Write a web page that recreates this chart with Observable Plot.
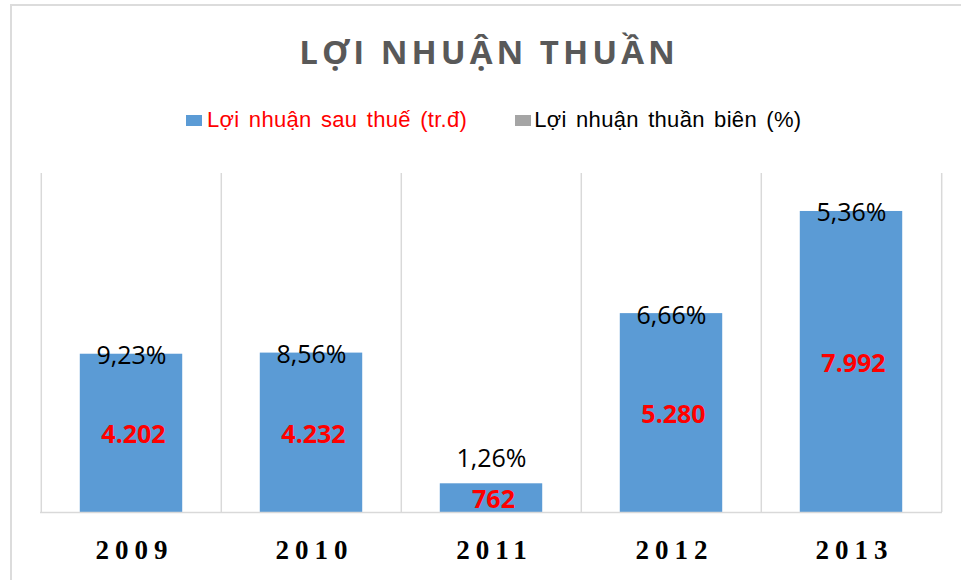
<!DOCTYPE html>
<html>
<head>
<meta charset="utf-8">
<script src="https://cdn.jsdelivr.net/npm/d3@7"></script>
<script src="https://cdn.jsdelivr.net/npm/@observablehq/plot@0.6"></script>
<style>
  html, body { margin: 0; padding: 0; background: #fff; overflow: hidden; }
  #wrap { position: relative; width: 961px; height: 580px; overflow: hidden; background: #fff; }
  #frameTop { position: absolute; left: 10px; top: 4px; width: 951px; height: 2px; background: #dcdcdc; }
  #frameLeft { position: absolute; left: 10px; top: 4px; width: 2px; height: 576px; background: #dcdcdc; }
  #title { position: absolute; left: 10px; width: 958px; top: 35px; text-align: center;
           font-family: "Open Sans", sans-serif; font-weight: 700; font-size: 33px; line-height: 33px;
           letter-spacing: 4px; color: #595959; white-space: nowrap; }
  #legend { position: absolute; left: 186px; top: 109px; height: 22px; display: flex; align-items: center;
            font-family: "Liberation Sans", Arial, sans-serif; font-size: 22px; line-height: 22px;
            letter-spacing: 0.3px; word-spacing: 3px; white-space: nowrap; }
  .item { display: flex; align-items: center; }
  .sw { width: 16px; height: 11px; display: inline-block; }
  #chart { position: absolute; left: 0; top: 150px; }
  #chart g[aria-label="x-axis tick label"] text { letter-spacing: 6px; }
</style>
</head>
<body>
<div id="wrap">
  <div id="frameTop"></div>
  <div id="frameLeft"></div>
  <div id="title"></div>
  <div id="legend"></div>
  <div id="chart"></div>
</div>
<script>
const chartTitle = "LỢI NHUẬN THUẦN";
const years = ["2009", "2010", "2011", "2012", "2013"];
const profit = [4202, 4232, 762, 5280, 7992];       // Lợi nhuận sau thuế (tr.đ)
const netMargin = [9.23, 8.56, 1.26, 6.66, 5.36];   // Lợi nhuận thuần biên (%)
const seriesNames = ["Lợi nhuận sau thuế (tr.đ)", "Lợi nhuận thuần biên (%)"];
const seriesColors = ["#5B9BD5", "#A5A5A5"];
const legendTextColors = ["#FF0000", "#000000"];

const vn = d3.formatLocale({decimal: ",", thousands: ".", grouping: [3], currency: ["", ""]});
const fmtInt = vn.format(",d");
const fmtPct = d => vn.format(".2f")(d) + "%";

const data = years.map((year, i) => ({year, profit: profit[i], margin: netMargin[i]}));

document.getElementById("title").textContent = chartTitle;
const legend = document.getElementById("legend");
seriesNames.forEach((name, i) => {
  const item = document.createElement("div");
  item.className = "item";
  item.style.marginRight = i === 0 ? "48px" : "0";
  const sw = document.createElement("span");
  sw.className = "sw";
  sw.style.background = seriesColors[i];
  sw.style.marginRight = i === 0 ? "5px" : "3px";
  const tx = document.createElement("span");
  tx.textContent = name;
  tx.style.color = legendTextColors[i];
  item.appendChild(sw);
  item.appendChild(tx);
  legend.appendChild(item);
});

const W = 961, H = 430, ML = 40, MR = 19, MT = 23, MB = 68;
const bw = (W - ML - MR) / years.length;
const barInset = bw * 0.215;

const plot = Plot.plot({
  width: W,
  height: H,
  marginLeft: ML,
  marginRight: MR,
  marginTop: MT,
  marginBottom: MB,
  style: {background: "transparent", overflow: "visible"},
  x: {type: "band", domain: years, padding: 0},
  y: {domain: [0, 9000], axis: null},
  marks: [
    Plot.ruleX(years, {x: d => d, dx: -bw / 2, stroke: "#d9d9d9", strokeWidth: 1.5, strokeOpacity: 1}),
    Plot.ruleX(years.slice(-1), {x: d => d, dx: bw / 2, stroke: "#d9d9d9", strokeWidth: 1.5, strokeOpacity: 1}),
    Plot.barY(data, {x: "year", y: "profit", fill: seriesColors[0], insetLeft: barInset, insetRight: barInset}),
    Plot.ruleY([0], {stroke: "#d9d9d9", strokeWidth: 1.5, strokeOpacity: 1}),
    Plot.text(data, {x: "year", y: d => d.profit / 2, text: d => fmtInt(d.profit), fill: "#FF0000",
      fontSize: 25, fontWeight: "bold", fontFamily: "Open Sans", dx: 2, dy: 2}),
    Plot.text(data.filter(d => d.profit >= 1000), {x: "year", y: "profit", text: d => fmtPct(d.margin),
      fill: "#000", fontSize: 25, fontFamily: "Open Sans", dy: 2}),
    Plot.text(data.filter(d => d.profit < 1000), {x: "year", y: "profit", text: d => fmtPct(d.margin),
      fill: "#000", fontSize: 25, fontFamily: "Open Sans", dy: -25}),
    Plot.axisX({tickSize: 0, tickPadding: 27, fontSize: 27, fontWeight: "bold",
      fontFamily: "Liberation Serif", fill: "#000", dx: 3, label: null})
  ]
});
document.getElementById("chart").appendChild(plot);
</script>
</body>
</html>
